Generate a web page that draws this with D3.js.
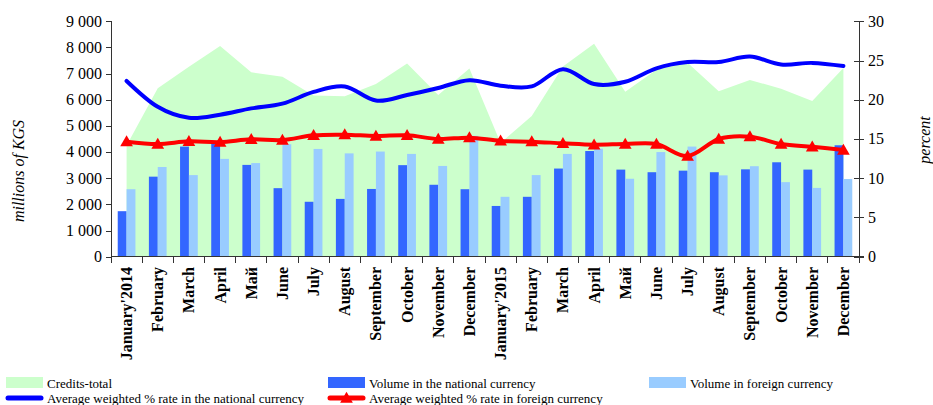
<!DOCTYPE html>
<html>
<head>
<meta charset="utf-8">
<script src="https://cdn.jsdelivr.net/npm/d3@7"></script>
<style>
  body { margin: 0; background: #fff; }
  text { font-family: "Liberation Serif", "Times New Roman", serif; fill: #000; }
</style>
</head>
<body>
<div id="chart"></div>
<script>
// months, 2014-2015
var months = ["January'2014", "February", "March", "April", "Май", "June", "July", "August",
  "September", "October", "November", "December",
  "January'2015", "February", "March", "April", "Май", "June", "July", "August",
  "September", "October", "November", "December"];

// millions of KGS
var creditsTotal = [4250, 6440, 7260, 8060, 7050, 6880, 6160, 6130, 6600, 7390, 6180, 7200,
  4350, 5380, 7270, 8140, 6310, 7150, 7420, 6330, 6760, 6420, 5950, 7210];
var volNational = [1740, 3060, 4210, 4340, 3510, 2620, 2100, 2210, 2590, 3500, 2750, 2580,
  1940, 2290, 3370, 4040, 3330, 3230, 3290, 3230, 3340, 3610, 3330, 4260];
var volForeign = [2580, 3430, 3120, 3740, 3580, 4300, 4120, 3950, 4020, 3930, 3470, 4620,
  2290, 3120, 3930, 4130, 2980, 4000, 4210, 3110, 3460, 2850, 2630, 2970];

// percent
var rateNational = [22.4, 19.1, 17.7, 18.1, 18.9, 19.5, 21.0, 21.7, 19.9, 20.6, 21.5, 22.5,
  21.8, 21.7, 23.9, 22.0, 22.3, 24.0, 24.8, 24.8, 25.5, 24.5, 24.7, 24.3];
var rateForeign = [14.66, 14.36, 14.7, 14.6, 14.96, 14.87, 15.47, 15.55, 15.38, 15.47, 15.0, 15.17,
  14.76, 14.66, 14.45, 14.27, 14.36, 14.36, 12.83, 15.0, 15.3, 14.36, 14.0, 13.6];

var leftTicks = [0, 1000, 2000, 3000, 4000, 5000, 6000, 7000, 8000, 9000];
var rightTicks = [0, 5, 10, 15, 20, 25, 30];

var W = 933, H = 405;
var plot = {left: 111, right: 859, top: 21.3, bottom: 256.7};
var axisColor = "#333";

var svg = d3.select("#chart").append("svg")
    .attr("width", W)
    .attr("height", H);

var x = d3.scaleBand()
    .domain(d3.range(months.length))
    .range([plot.left, plot.right])
    .padding(0);

var xInner = d3.scaleBand()
    .domain(["nat", "for"])
    .range([0, x.bandwidth()])
    .paddingInner(0)
    .paddingOuter(0.76);

var yL = d3.scaleLinear().domain([0, 9000]).range([plot.bottom, plot.top]);
var yR = d3.scaleLinear().domain([0, 30]).range([plot.bottom, plot.top]);

var fmt = d3.formatLocale({decimal: ".", thousands: " ", grouping: [3], currency: ["", ""]}).format(",");

function cx(i) { return x(i) + x.bandwidth() / 2; }

// ---- green area (credits total)
var area = d3.area()
    .x(function(d, i) { return cx(i); })
    .y0(yL(0))
    .y1(function(d) { return yL(d); });

svg.append("path")
    .datum(creditsTotal)
    .attr("d", area)
    .attr("fill", "#CCFFCC");

// ---- bars
var g = svg.append("g");
g.selectAll("rect.nat")
    .data(volNational)
  .enter().append("rect")
    .attr("class", "nat")
    .attr("x", function(d, i) { return x(i) + xInner("nat"); })
    .attr("width", xInner.bandwidth())
    .attr("y", function(d) { return yL(d); })
    .attr("height", function(d) { return yL(0) - yL(d); })
    .attr("fill", "#3366FF");

g.selectAll("rect.for")
    .data(volForeign)
  .enter().append("rect")
    .attr("class", "for")
    .attr("x", function(d, i) { return x(i) + xInner("for"); })
    .attr("width", xInner.bandwidth())
    .attr("y", function(d) { return yL(d); })
    .attr("height", function(d) { return yL(0) - yL(d); })
    .attr("fill", "#99CCFF");

// ---- lines (smoothed like the original)
var line = d3.line()
    .x(function(d, i) { return cx(i); })
    .y(function(d) { return yR(d); })
    .curve(d3.curveCatmullRom.alpha(0));

svg.append("path")
    .datum(rateNational)
    .attr("d", line)
    .attr("fill", "none")
    .attr("stroke", "#0000FF")
    .attr("stroke-width", 4)
    .attr("stroke-linecap", "round");

svg.append("path")
    .datum(rateForeign)
    .attr("d", line)
    .attr("fill", "none")
    .attr("stroke", "#FF0000")
    .attr("stroke-width", 4)
    .attr("stroke-linecap", "round");

var tri = d3.symbol().type(d3.symbolTriangle).size(70);
svg.selectAll("path.mark")
    .data(rateForeign)
  .enter().append("path")
    .attr("class", "mark")
    .attr("d", tri)
    .attr("transform", function(d, i) { return "translate(" + cx(i) + "," + (yR(d) + 1) + ")"; })
    .attr("fill", "#FF0000");

// ---- axes
var ax = svg.append("g").attr("stroke", axisColor).attr("stroke-width", 1).attr("shape-rendering", "crispEdges");

// left
ax.append("line").attr("x1", plot.left).attr("x2", plot.left).attr("y1", yL(0)).attr("y2", yL(9000));
ax.selectAll("line.lt").data(leftTicks).enter().append("line")
    .attr("x1", plot.left - 5).attr("x2", plot.left)
    .attr("y1", function(d) { return Math.round(yL(d)); })
    .attr("y2", function(d) { return Math.round(yL(d)); });

// right
ax.append("line").attr("x1", plot.right).attr("x2", plot.right).attr("y1", yR(0)).attr("y2", yR(30));
ax.selectAll("line.rt").data(rightTicks).enter().append("line")
    .attr("x1", plot.right - 5).attr("x2", plot.right + 5)
    .attr("y1", function(d) { return Math.round(yR(d)); })
    .attr("y2", function(d) { return Math.round(yR(d)); });

// bottom
ax.append("line").attr("x1", plot.left).attr("x2", plot.right + 5).attr("y1", yL(0)).attr("y2", yL(0));
ax.selectAll("line.bt").data(d3.range(months.length + 1)).enter().append("line")
    .attr("x1", function(d) { return plot.left + d * x.step(); })
    .attr("x2", function(d) { return plot.left + d * x.step(); })
    .attr("y1", yL(0)).attr("y2", yL(0) + 6);

svg.selectAll("text.lt").data(leftTicks).enter().append("text")
    .attr("x", plot.left - 9)
    .attr("y", function(d) { return yL(d); })
    .attr("dy", "0.33em")
    .attr("text-anchor", "end")
    .style("font-size", "16px")
    .text(function(d) { return fmt(d); });

svg.selectAll("text.rt").data(rightTicks).enter().append("text")
    .attr("x", plot.right + 9)
    .attr("y", function(d) { return yR(d); })
    .attr("dy", "0.33em")
    .attr("text-anchor", "start")
    .style("font-size", "16px")
    .text(function(d) { return d; });

svg.selectAll("text.month").data(months).enter().append("text")
    .attr("transform", function(d, i) { return "translate(" + (cx(i) + 5.5) + "," + 267 + ") rotate(-90)"; })
    .attr("text-anchor", "end")
    .style("font-size", "16px")
    .style("font-weight", "bold")
    .text(function(d) { return d; });

// axis titles
svg.append("text")
    .attr("transform", "translate(24,171) rotate(-90)")
    .attr("text-anchor", "middle")
    .style("font-size", "16px")
    .style("font-style", "italic")
    .text("millions of KGS");

svg.append("text")
    .attr("transform", "translate(930,140) rotate(-90)")
    .attr("text-anchor", "middle")
    .style("font-size", "16px")
    .style("font-style", "italic")
    .text("percent");

// ---- legend
var legendItems = [
  {label: "Credits-total", type: "rect", color: "#CCFFCC", x: 6, y: 383},
  {label: "Volume in the national currency", type: "rect", color: "#3366FF", x: 328, y: 383},
  {label: "Volume in foreign currency", type: "rect", color: "#99CCFF", x: 649, y: 383},
  {label: "Average weighted % rate in the national currency", type: "line", color: "#0000FF", x: 6, y: 398},
  {label: "Average weighted % rate in foreign currency", type: "marker", color: "#FF0000", x: 328, y: 398}
];

var lg = svg.selectAll("g.legend").data(legendItems).enter().append("g")
    .attr("class", "legend")
    .attr("transform", function(d) { return "translate(" + d.x + "," + d.y + ")"; });

lg.filter(function(d) { return d.type === "rect"; }).append("rect")
    .attr("x", 0).attr("y", -6).attr("width", 37).attr("height", 11)
    .attr("fill", function(d) { return d.color; });

lg.filter(function(d) { return d.type !== "rect"; }).append("line")
    .attr("x1", 2).attr("x2", 35).attr("y1", 0).attr("y2", 0)
    .attr("stroke", function(d) { return d.color; })
    .attr("stroke-width", 5)
    .attr("stroke-linecap", "round");

lg.filter(function(d) { return d.type === "marker"; }).append("path")
    .attr("d", tri)
    .attr("transform", "translate(18.5,1)")
    .attr("fill", function(d) { return d.color; });

lg.append("text")
    .attr("x", 41)
    .attr("y", 0)
    .attr("dy", "0.35em")
    .style("font-size", "13px")
    .text(function(d) { return d.label; });
</script>
</body>
</html>
